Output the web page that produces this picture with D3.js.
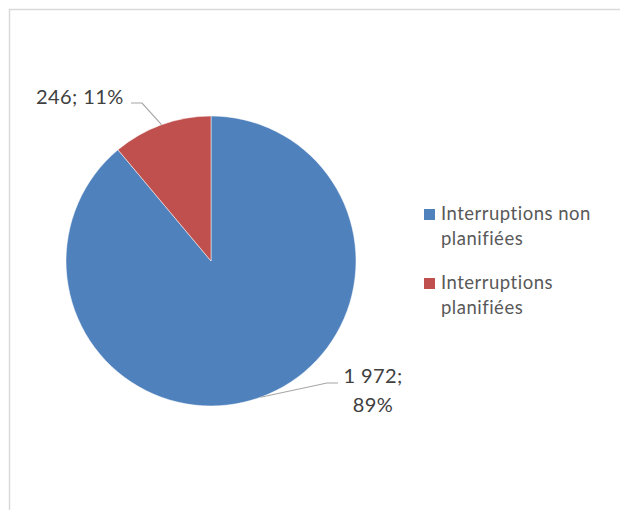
<!DOCTYPE html>
<html>
<head>
<meta charset="utf-8">
<script src="https://d3js.org/d3.v7.min.js"></script>
<style>
  body { margin: 0; background: #fff; }
  text { font-family: Lato, "Open Sans", sans-serif; }
</style>
</head>
<body>
<script>
    // données
    let categories = ["Interruptions non planifiées", "Interruptions planifiées"];
    let values = [1972, 246];
    let colors = ["#4F81BD", "#C0504D"];
    let legendLines = [["Interruptions non", "planifiées"], ["Interruptions", "planifiées"]];

    let width = 620, height = 510;
    let cx = 211, cy = 261, radius = 145;

    let fr = d3.formatLocale({decimal: ",", thousands: "\u00a0", grouping: [3], currency: ["", " €"]});
    let fmtNum = fr.format(",d");

    let svg = d3.select("body")
        .append("svg")
            .attr("width", width)
            .attr("height", height);

    // cadre
    svg.append("rect")
        .attr("x", 9.5).attr("y", 9.5)
        .attr("width", 640).attr("height", 540)
        .attr("fill", "none")
        .attr("stroke", "#d9d9d9")
        .attr("stroke-width", 1.5);

    let total = d3.sum(values);
    let data = categories.map((c, i) => ({name: c, value: values[i], color: colors[i]}));

    let pie = d3.pie().sort(null).value(d => d.value);
    let arcs = pie(data);
    let arc = d3.arc().innerRadius(0).outerRadius(radius);

    let g = svg.append("g").attr("transform", `translate(${cx},${cy})`);

    g.selectAll("path")
        .data(arcs)
        .join("path")
            .attr("d", arc)
            .attr("fill", d => d.data.color)
            .attr("stroke", "#fff")
            .attr("stroke-width", 0.5);

    // étiquettes + lignes de rappel
    let labelPos = [
        {elbow: [116, 122], end: [127, 122], x: 162, y: 122, anchor: "middle"},
        {elbow: [-69, -158], end: [-80, -158], x: -175, y: -157, anchor: "start"}
    ];

    arcs.forEach((d, i) => {
        let mid = (d.startAngle + d.endAngle) / 2;
        let ax = Math.sin(mid) * radius, ay = -Math.cos(mid) * radius;
        let p = labelPos[i];
        g.append("polyline")
            .attr("points", [[ax, ay], p.elbow, p.end].map(q => q.join(",")).join(" "))
            .attr("fill", "none")
            .attr("stroke", "#a6a6a6")
            .attr("stroke-width", 1.2);
        let pct = Math.round(d.data.value / total * 100) + "%";
        let num = fmtNum(d.data.value);
        let t = g.append("text")
            .attr("fill", "#404040")
            .attr("font-size", 20)
            .attr("letter-spacing", 0.4)
            .attr("text-anchor", p.anchor);
        if (i === 0) {
            t.append("tspan").attr("x", p.x).attr("y", p.y).text(num + ";");
            t.append("tspan").attr("x", p.x).attr("y", p.y + 29).text(pct);
        } else {
            t.append("tspan").attr("x", p.x).attr("y", p.y).text(num + "; " + pct);
        }
    });

    // légende
    let legend = svg.append("g").attr("transform", "translate(424,209)");
    let item = legend.selectAll("g")
        .data(data)
        .join("g")
            .attr("transform", (d, i) => `translate(0,${i * 69})`);
    item.append("rect")
        .attr("width", 11).attr("height", 11)
        .attr("fill", d => d.color);
    item.append("text")
        .attr("fill", "#595959")
        .attr("font-size", 18.5)
        .attr("letter-spacing", 0.5)
        .selectAll("tspan")
        .data((d, i) => legendLines[i])
        .join("tspan")
            .attr("x", 17)
            .attr("y", (d, j) => 11 + j * 25)
            .text(d => d);
</script>
</body>
</html>
